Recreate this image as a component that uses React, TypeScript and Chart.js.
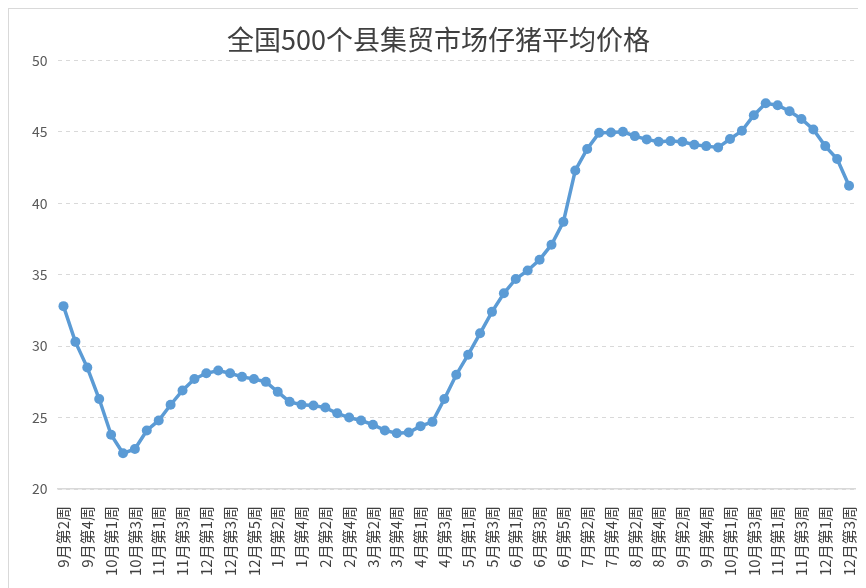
import React, { useEffect, useRef } from "react";
import { Chart, registerables } from "chart.js";

Chart.register(...registerables);

const TITLE = "全国500个县集贸市场仔猪平均价格";

const weeks: string[] = [
  "9月第2周", "9月第3周", "9月第4周", "9月第5周",
  "10月第1周", "10月第2周", "10月第3周", "10月第4周",
  "11月第1周", "11月第2周", "11月第3周", "11月第4周",
  "12月第1周", "12月第2周", "12月第3周", "12月第4周", "12月第5周",
  "1月第1周", "1月第2周", "1月第3周", "1月第4周",
  "2月第1周", "2月第2周", "2月第3周", "2月第4周",
  "3月第1周", "3月第2周", "3月第3周", "3月第4周", "3月第5周",
  "4月第1周", "4月第2周", "4月第3周", "4月第4周",
  "5月第1周", "5月第2周", "5月第3周", "5月第4周",
  "6月第1周", "6月第2周", "6月第3周", "6月第4周", "6月第5周",
  "7月第1周", "7月第2周", "7月第3周", "7月第4周",
  "8月第1周", "8月第2周", "8月第3周", "8月第4周",
  "9月第1周", "9月第2周", "9月第3周", "9月第4周", "9月第5周",
  "10月第1周", "10月第2周", "10月第3周", "10月第4周",
  "11月第1周", "11月第2周", "11月第3周", "11月第4周",
  "12月第1周", "12月第2周", "12月第3周",
];

const prices: number[] = [
  32.8, 30.3, 28.5, 26.3, 23.8, 22.5, 22.8, 24.1, 24.8, 25.9,
  26.9, 27.7, 28.1, 28.3, 28.1, 27.85, 27.7, 27.5, 26.8, 26.1,
  25.9, 25.85, 25.7, 25.3, 25.0, 24.8, 24.5, 24.1, 23.9, 23.95,
  24.4, 24.7, 26.3, 28.0, 29.4, 30.9, 32.4, 33.7, 34.7, 35.3,
  36.05, 37.1, 38.7, 42.3, 43.8, 44.93, 44.95, 45.0, 44.7, 44.47,
  44.3, 44.35, 44.3, 44.1, 44.0, 43.9, 44.5, 45.07, 46.16, 47.0,
  46.86, 46.44, 45.9, 45.16, 44.0, 43.1, 41.23,
];

const yTicks: number[] = [20, 25, 30, 35, 40, 45, 50];

const FONT = "'Noto Sans CJK SC', 'Noto Sans', sans-serif";

export default function App() {
  const ref = useRef<HTMLCanvasElement | null>(null);

  useEffect(() => {
    if (!ref.current) return;
    const chart = new Chart(ref.current, {
      type: "line",
      data: {
        labels: weeks,
        datasets: [
          {
            data: prices,
            borderColor: "#5B9BD5",
            backgroundColor: "#5B9BD5",
            borderWidth: 3.5,
            pointRadius: 5,
            pointBorderWidth: 0,
            pointBackgroundColor: "#5B9BD5",
            tension: 0,
          },
        ],
      },
      options: {
        animation: false,
        responsive: false,
        maintainAspectRatio: false,
        layout: { padding: { left: 13, right: 11, top: 0, bottom: 3 } },
        plugins: {
          legend: { display: false },
          tooltip: { enabled: false },
          title: {
            display: true,
            text: TITLE,
            color: "#404040",
            font: { family: FONT, size: 27, weight: "normal" },
            padding: { top: 15, bottom: 4 },
          },
        },
        scales: {
          x: {
            type: "category",
            offset: true,
            afterFit: (axis: any) => {
              axis.paddingRight = 0;
            },
            grid: { display: false },
            border: { display: true, color: "#d9d9d9", width: 1.5 },
            ticks: {
              autoSkip: false,
              minRotation: 90,
              maxRotation: 90,
              padding: 9,
              color: "#404040",
              font: { family: FONT, size: 15 },
              callback: function (this: any, value: any, index: number) {
                return index % 2 === 0 ? weeks[index] : "";
              },
            },
          },
          y: {
            min: yTicks[0],
            max: yTicks[yTicks.length - 1],
            afterBuildTicks: (axis: any) => {
              axis.ticks = yTicks.map((v) => ({ value: v }));
            },
            grid: { color: "#d9d9d9", lineWidth: 1, drawTicks: false },
            border: { display: false, dash: [4, 4] },
            ticks: {
              padding: 10,
              color: "#595959",
              font: { family: FONT, size: 14 },
            },
          },
        },
      },
    });
    return () => chart.destroy();
  }, []);

  return (
    <div
      style={{
        width: 858,
        height: 580,
        borderLeft: "1px solid #d9d9d9",
        borderTop: "1px solid #d9d9d9",
        boxSizing: "border-box",
        background: "#fff",
      }}
    >
      <canvas ref={ref} width={857} height={579} style={{ display: "block" }} />
    </div>
  );
}
